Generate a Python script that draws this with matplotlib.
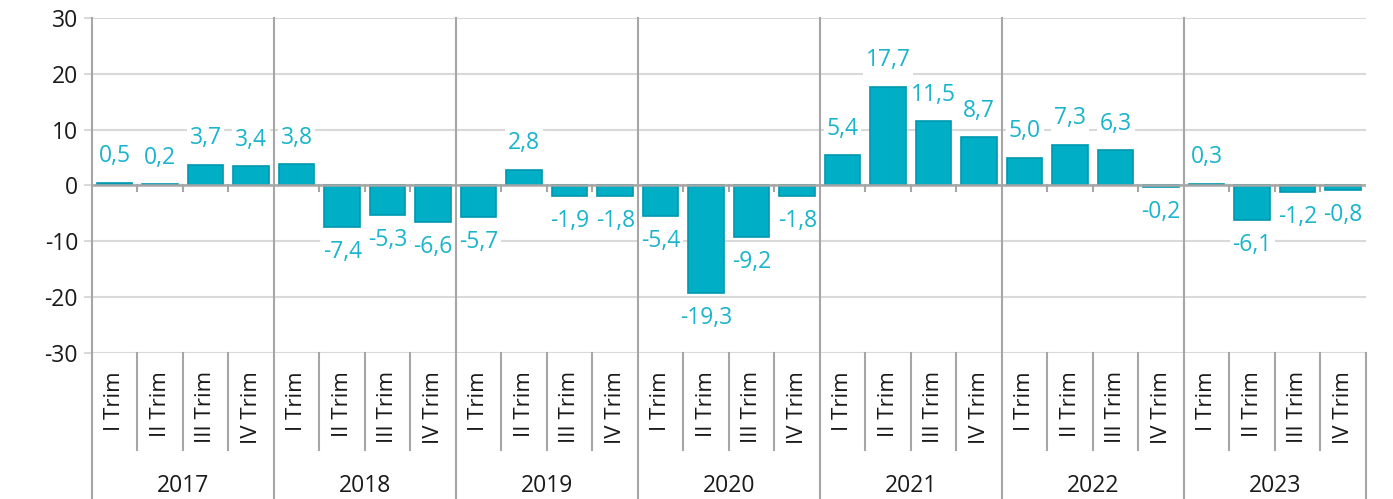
import matplotlib.pyplot as plt
import matplotlib.transforms as mtransforms
import numpy as np

years = ['2017', '2018', '2019', '2020', '2021', '2022', '2023']
quarters = ['I Trim', 'II Trim', 'III Trim', 'IV Trim']
values = [0.5, 0.2, 3.7, 3.4,
          3.8, -7.4, -5.3, -6.6,
          -5.7, 2.8, -1.9, -1.8,
          -5.4, -19.3, -9.2, -1.8,
          5.4, 17.7, 11.5, 8.7,
          5.0, 7.3, 6.3, -0.2,
          0.3, -6.1, -1.2, -0.8]

bar_color = '#00AEC5'
edge_color = '#0098B0'
label_color = '#1AB4CB'
grid_color = '#D9D9D9'
line_color = '#A6A6A6'

plt.rcParams['font.family'] = ['Open Sans', 'DejaVu Sans']
plt.rcParams['axes.unicode_minus'] = False

fig = plt.figure(figsize=(13.93, 4.99), dpi=100)
ax = fig.add_axes([0.066, 0.2926, 0.9146, 0.6714])

x = np.arange(len(values))
ax.bar(x, values, width=0.78, color=bar_color, edgecolor=edge_color, linewidth=1.2, zorder=2)

ax.set_xlim(-0.5, len(values) - 0.5)
ax.set_ylim(-30, 30)
ax.set_yticks(np.arange(-30, 31, 10))
ax.yaxis.grid(True, color=grid_color, linewidth=1.5, zorder=0)
ax.set_axisbelow(True)
ax.tick_params(axis='y', length=6, color=grid_color, width=1.5, labelsize=16.5,
               labelcolor='#1a1a1a', pad=4)

for s in ['top', 'right', 'bottom', 'left']:
    ax.spines[s].set_visible(False)

# zero line and small ticks at quarter boundaries
ax.axhline(0, color=line_color, linewidth=1.8, zorder=2.5)
for b in x[:-1] + 0.5:
    if (b + 0.5) % 4 != 0:
        ax.plot([b, b], [0, -0.9], color=line_color, linewidth=1.5, zorder=2.5)

# quarter labels
ax.set_xticks(x)
ax.set_xticklabels(quarters * len(years), rotation=90, va='top', fontsize=16, color='#1a1a1a')
ax.tick_params(axis='x', length=0, pad=13)

trans = mtransforms.blended_transform_factory(ax.transData, ax.transAxes)

# separators below the axis
for i in range(len(values) + 1):
    b = i - 0.5
    if i % 4 == 0:
        top = 1.0 if i < len(values) else 0.0
        ax.plot([b, b], [top, -0.4358], color=line_color, linewidth=1.5,
                transform=trans, clip_on=False, zorder=4)
    else:
        ax.plot([b, b], [0, -0.2896], color=line_color, linewidth=1.5,
                transform=trans, clip_on=False, zorder=4)

# year labels
for k, yr in enumerate(years):
    ax.text(4 * k + 1.5, -0.397, yr, transform=trans, ha='center', va='center',
            fontsize=16.5, color='#1a1a1a')

# data labels
for xi, v in zip(x, values):
    txt = f'{v:.1f}'.replace('.', ',')
    off = 19 if v >= 0 else -18
    ax.annotate(txt, (xi, v), xytext=(0, off), textcoords='offset points',
                ha='center', va='center', fontsize=16.5, color=label_color, zorder=3,
                bbox=dict(boxstyle='square,pad=0.12', facecolor='white', edgecolor='none'))

fig.savefig('out.png', dpi=100)
